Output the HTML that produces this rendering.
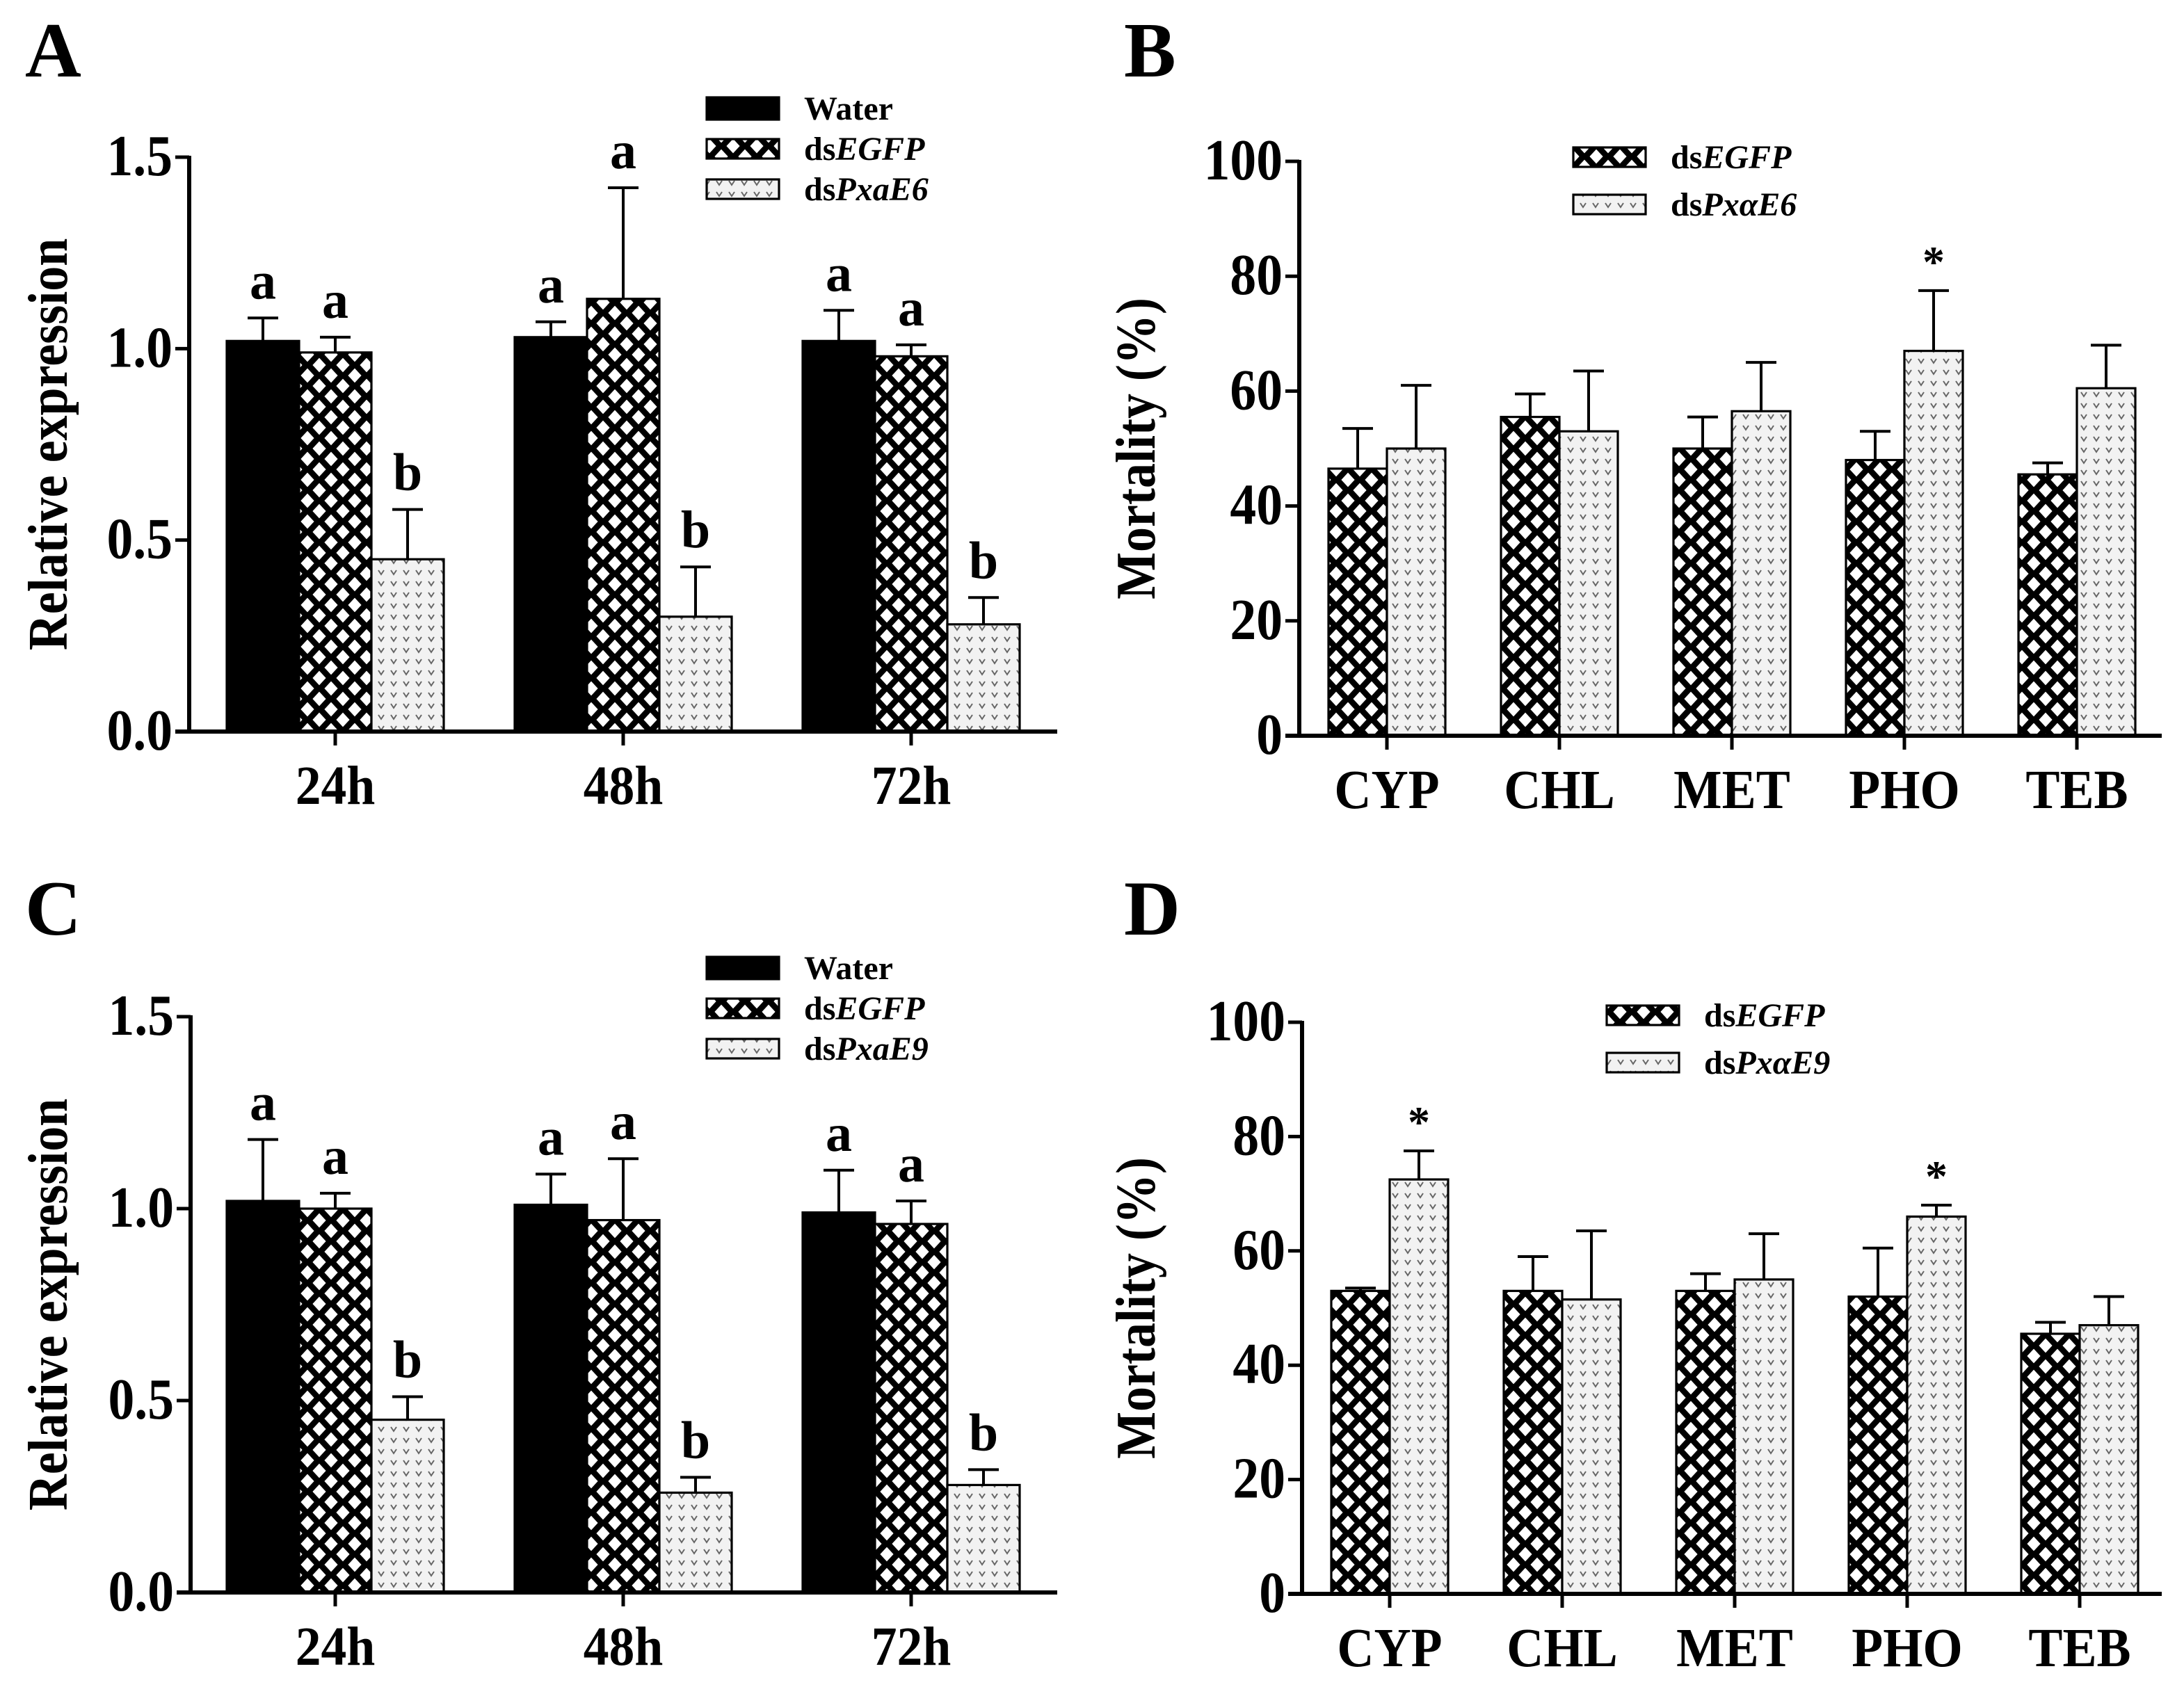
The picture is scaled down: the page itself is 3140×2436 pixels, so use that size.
<!DOCTYPE html>
<html><head><meta charset="utf-8"><style>
html,body{margin:0;padding:0;background:#fff}
svg{display:block}
text{font-family:"Liberation Serif",serif;font-weight:bold;fill:#000}
</style></head><body>
<svg id="fig" width="3140" height="2436" viewBox="0 0 1570 1218" xmlns="http://www.w3.org/2000/svg">
<defs>
<pattern id="hatch" patternUnits="userSpaceOnUse" width="17" height="15">
<rect width="17" height="15" fill="#000"/>
<path d="M8.5 2.3 L13.3 7.5 L8.5 12.7 L3.7 7.5Z" fill="#fff"/>
<path d="M0 -5.2 L4.8 0 L0 5.2 L-4.8 0Z M17 -5.2 L21.8 0 L17 5.2 L12.2 0Z M0 9.8 L4.8 15 L0 20.2 L-4.8 15Z M17 9.8 L21.8 15 L17 20.2 L12.2 15Z" fill="#fff"/>
</pattern>
<pattern id="dots" patternUnits="userSpaceOnUse" width="9" height="8">
<rect width="9" height="8" fill="#f2f2f2"/>
<path d="M2 2 L4 5 L6 2" stroke="#666" stroke-width="1" fill="none"/>
</pattern>
</defs>
</svg>
<script>
// Panel A data
const timeCats = ['24h','48h','72h'];
const aWater = [1.02,1.03,1.02];
const aWaterErr = [0.06,0.04,0.08];
const aEGFP = [0.99,1.13,0.98];
const aEGFPErr = [0.04,0.29,0.03];
const aE6 = [0.45,0.30,0.28];
const aE6Err = [0.13,0.13,0.07];
const aLetters = [['a','a','b'],['a','a','b'],['a','a','b']];
// Panel C data
const cWater = [1.02,1.01,0.99];
const cWaterErr = [0.16,0.08,0.11];
const cEGFP = [1.00,0.97,0.96];
const cEGFPErr = [0.04,0.16,0.06];
const cE9 = [0.45,0.26,0.28];
const cE9Err = [0.06,0.04,0.04];
const exprTicks = [0.0,0.5,1.0,1.5];
const exprTickLabels = ['0.0','0.5','1.0','1.5'];
// Panel B data
const insCats = ['CYP','CHL','MET','PHO','TEB'];
const bEGFP = [46.5,55.5,50,48,45.5];
const bEGFPErr = [7,4,5.5,5,2];
const bE6 = [50,53,56.5,67,60.5];
const bE6Err = [11,10.5,8.5,10.5,7.5];
const bStars = [false,false,false,true,false];
// Panel D data
const dEGFP = [53,53,53,52,45.5];
const dEGFPErr = [0.5,6,3,8.5,2];
const dE9 = [72.5,51.5,55,66,47];
const dE9Err = [5,12,8,2,5];
const dStars = [true,false,false,true,false];
const mortTicks = [0,20,40,60,80,100];
const mortTickLabels = ['0','20','40','60','80','100'];

const NS='http://www.w3.org/2000/svg';
const svg=document.getElementById('fig');
function el(tag,attrs,parent,txt){const e=document.createElementNS(NS,tag);for(const k in attrs)e.setAttribute(k,attrs[k]);if(txt!==undefined)e.textContent=txt;(parent||svg).appendChild(e);return e;}
function sx(x,y,s){return `translate(${x} ${y}) scale(${s} 1) translate(${-x} ${-y})`;}

function panel(o){
  const g=el('g',{});
  
  
  const y=v=>o.y0-(v-o.vmin)/(o.vmax-o.vmin)*(o.y0-o.y1);
  const pl=el('text',{x:o.letterX,y:o.letterY,'font-size':56},g,o.letter);
  
  
  const cy=(o.y0+o.y1)/2;
  const yt=el('text',{x:o.ytX,y:cy,'font-size':40,'text-anchor':'middle',transform:`rotate(-90 ${o.ytX} ${cy}) `+sx(o.ytX,cy,0.9)},g,o.ytitle);
  
  
  const n=o.series.length;
  o.cats.forEach((c,i)=>{
    const cx=o.cx0+i*o.step;
    const left=cx-n*o.bw/2;
    o.series.forEach((s,j)=>{
      const v=s.vals[i],e=s.err[i];
      const x=left+j*o.bw, top=y(v);
      const r=el('rect',{x:x,y:top,width:o.bw,height:o.y0-top,fill:s.fill,stroke:'#000','stroke-width':1.6},g);
      
      
      const mx=x+o.bw/2, et=y(v+e);
      const eb=el('path',{d:`M${mx} ${top} V${et} M${mx-11} ${et} H${mx+11}`,stroke:'#000','stroke-width':2,fill:'none'},g);
      
      
      if(o.letters){
        const lt=el('text',{x:mx,y:et-14,'font-size':38,'text-anchor':'middle'},g,o.letters[i][j]);
        
        
      }
      if(o.stars && j===1 && o.stars[i]){
        const st=el('text',{x:mx,y:et-10,'font-size':32,'font-weight':'normal','text-anchor':'middle'},g,'*');
        
        
      }
    });
    const tk=el('line',{x1:cx,x2:cx,y1:o.y0,y2:o.y0+10,stroke:'#000','stroke-width':2.5},g);
    
    
    const xl=el('text',{x:cx,y:o.y0+52,'font-size':40,'text-anchor':'middle',transform:sx(cx,o.y0,0.92)},g,c);
    
    
  });
  const ya=el('line',{x1:o.ax,x2:o.ax,y1:o.y1-1,y2:o.y0,stroke:'#000','stroke-width':3},g);
  
  
  const xa=el('line',{x1:o.ax-10,x2:o.axEnd,y1:o.y0,y2:o.y0,stroke:'#000','stroke-width':3},g);
  
  
  o.ticks.forEach((t,k)=>{
    const ty=y(t);
    const tl=el('line',{x1:o.ax-10,x2:o.ax,y1:ty,y2:ty,stroke:'#000','stroke-width':2.5},g);
    
    
    const tx=el('text',{x:o.ax-12,y:ty+13,'font-size':42,'text-anchor':'end',transform:sx(o.ax-12,ty,0.9)},g,o.tickLabels[k]);
    
    
  });
  o.legend.forEach((L,k)=>{
    const ly=o.legY+k*o.legStep;
    const sw=el('rect',{x:o.legX,y:ly-L.h/2,width:52,height:L.h,fill:L.fill,stroke:'#000','stroke-width':1.6},g);
    
    
    const t=el('text',{x:o.legX+70,y:ly+8,'font-size':24},g);
    
    
    L.parts.forEach(p=>{el('tspan',{'font-style':p[1]?'italic':'normal'},t,p[0]);});
  });
}

panel({name:'panel-a',letter:'A',letterX:18,letterY:55,ytitle:'Relative expression',ytX:48,
  y0:526,y1:113,vmin:0,vmax:1.5,ax:136,axEnd:760,cats:timeCats,cx0:241,step:207,bw:52,
  series:[{key:'water',vals:aWater,err:aWaterErr,fill:'#000'},{key:'dsegfp',vals:aEGFP,err:aEGFPErr,fill:'url(#hatch)'},{key:'dspxae6',vals:aE6,err:aE6Err,fill:'url(#dots)'}],
  letters:aLetters,ticks:exprTicks,tickLabels:exprTickLabels,legX:508,legY:78,legStep:29,
  legend:[{key:'water',fill:'#000',h:16,parts:[['Water',0]]},{key:'dsegfp',fill:'url(#hatch)',h:14,parts:[['ds',0],['EGFP',1]]},{key:'dspxae6',fill:'url(#dots)',h:14,parts:[['ds',0],['PxaE6',1]]}]});

panel({name:'panel-b',letter:'B',letterX:808,letterY:55,ytitle:'Mortality (%)',ytX:830,
  y0:529,y1:116,vmin:0,vmax:100,ax:934,axEnd:1554,cats:insCats,cx0:997,step:124,bw:42,
  series:[{key:'dsegfp',vals:bEGFP,err:bEGFPErr,fill:'url(#hatch)'},{key:'dspxae6',vals:bE6,err:bE6Err,fill:'url(#dots)'}],
  stars:bStars,ticks:mortTicks,tickLabels:mortTickLabels,legX:1131,legY:113,legStep:34,
  legend:[{key:'dsegfp',fill:'url(#hatch)',h:14,parts:[['ds',0],['EGFP',1]]},{key:'dspxae6',fill:'url(#dots)',h:14,parts:[['ds',0],['Px\u03b1E6',1]]}]});

panel({name:'panel-c',letter:'C',letterX:18,letterY:672,ytitle:'Relative expression',ytX:48,
  y0:1145,y1:731,vmin:0,vmax:1.5,ax:137,axEnd:760,cats:timeCats,cx0:241,step:207,bw:52,
  series:[{key:'water',vals:cWater,err:cWaterErr,fill:'#000'},{key:'dsegfp',vals:cEGFP,err:cEGFPErr,fill:'url(#hatch)'},{key:'dspxae9',vals:cE9,err:cE9Err,fill:'url(#dots)'}],
  letters:aLetters,ticks:exprTicks,tickLabels:exprTickLabels,legX:508,legY:696,legStep:29,
  legend:[{key:'water',fill:'#000',h:16,parts:[['Water',0]]},{key:'dsegfp',fill:'url(#hatch)',h:14,parts:[['ds',0],['EGFP',1]]},{key:'dspxae9',fill:'url(#dots)',h:14,parts:[['ds',0],['PxaE9',1]]}]});

panel({name:'panel-d',letter:'D',letterX:808,letterY:672,ytitle:'Mortality (%)',ytX:830,
  y0:1146,y1:735,vmin:0,vmax:100,ax:936,axEnd:1554,cats:insCats,cx0:999,step:124,bw:42,
  series:[{key:'dsegfp',vals:dEGFP,err:dEGFPErr,fill:'url(#hatch)'},{key:'dspxae9',vals:dE9,err:dE9Err,fill:'url(#dots)'}],
  stars:dStars,ticks:mortTicks,tickLabels:mortTickLabels,legX:1155,legY:730,legStep:34,
  legend:[{key:'dsegfp',fill:'url(#hatch)',h:14,parts:[['ds',0],['EGFP',1]]},{key:'dspxae9',fill:'url(#dots)',h:14,parts:[['ds',0],['Px\u03b1E9',1]]}]});
</script>
</body></html>
